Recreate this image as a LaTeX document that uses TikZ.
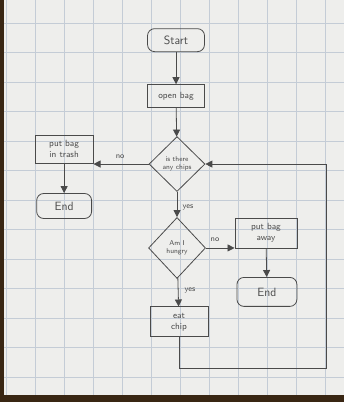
\documentclass[tikz,border=0pt]{standalone}
\usetikzlibrary{shapes.geometric,arrows.meta}
\definecolor{pencil}{HTML}{4A4A4A}
\definecolor{paper}{HTML}{EEEEEC}
\definecolor{gridline}{HTML}{C4CCD6}
\tikzset{
  paso/.style={draw=pencil, thick, text=pencil, align=center, font=\small\sffamily, inner sep=1pt},
  fin/.style={paso, rounded corners=7pt, font=\large\sffamily},
  pregunta/.style={paso, diamond, inner sep=0pt, font=\scriptsize\sffamily},
  flecha/.style={draw=pencil, thick, -{Triangle[width=7pt,length=7pt]}},
  etiqueta/.style={text=pencil, font=\footnotesize\sffamily}
}
\begin{document}
\begin{tikzpicture}[x=1pt, y=-1pt]
    % Hoja cuadriculada
    \fill[paper] (0,0) rectangle (344,402);
    \foreach \x in {6,35,...,340} \draw[gridline, thin] (\x,0) -- (\x,402);
    \foreach \y in {23,52.5,...,400} \draw[gridline, thin] (0,\y) -- (344,\y);
    \fill[black!70!brown] (0,0) rectangle (4,402);
    \fill[black!70!brown] (0,395) rectangle (344,402);
    \useasboundingbox (0,0) rectangle (344,402);

    % Pasos
    \node[fin, minimum width=57pt, minimum height=23pt] (inicio) at (176,40) {Start};
    \node[paso, minimum width=57pt, minimum height=23pt] (abrir) at (176,96) {open bag};
    \node[pregunta, minimum width=56pt, minimum height=55pt] (papas) at (177,164) {is there\\any chips};
    \node[paso, minimum width=58pt, minimum height=28pt] (basura) at (64,149) {put bag\\in trash};
    \node[fin, minimum width=55pt, minimum height=25pt] (fin1) at (64,206) {End};
    \node[pregunta, minimum width=57pt, minimum height=61pt] (hambre) at (177,248) {Am I\\hungry};
    \node[paso, minimum width=62pt, minimum height=30pt] (guardar) at (266,233) {put bag\\away};
    \node[fin, minimum width=60pt, minimum height=29pt] (fin2) at (267,292) {End};
    \node[paso, minimum width=58pt, minimum height=30pt] (comer) at (179,322) {eat\\chip};

    % Flechas
    \draw[flecha] (inicio) -- (abrir);
    \draw[flecha] (abrir) -- (papas);
    \draw[flecha] (papas.west) -- (papas.west -| basura.east);
    \draw[flecha] (basura) -- (fin1);
    \draw[flecha] (papas) -- (hambre);
    \draw[flecha] (hambre.east) -- (hambre.east -| guardar.west);
    \draw[flecha] (guardar) -- (fin2);
    \draw[flecha] (hambre) -- (comer);
    \coordinate (abajo) at (179,369);
    \coordinate (derecha) at (327,369);
    \draw[flecha] (comer.south) -- (abajo) -- (derecha) -- (derecha |- papas.east) -- (papas.east);

    % Etiquetas
    \node[etiqueta] (no1) at (120,157) {no};
    \node[etiqueta] (si1) at (188,207) {yes};
    \node[etiqueta] (no2) at (215,240) {no};
    \node[etiqueta] (si2) at (190,291) {yes};
\end{tikzpicture}
\end{document}
